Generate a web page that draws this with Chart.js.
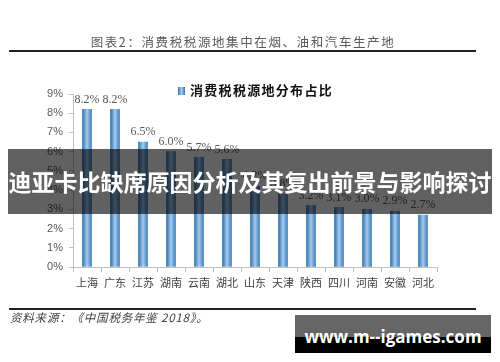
<!DOCTYPE html>
<html>
<head>
<meta charset="utf-8">
<script src="https://cdn.jsdelivr.net/npm/chart.js@4"></script>
<style>
  body { margin: 0; background: #fff; }
  #wrap { position: relative; width: 500px; height: 362px; overflow: hidden; font-family: "Noto Sans CJK SC", sans-serif; }
  #chart { position: absolute; left: 0; top: 0; }
  .title { position: absolute; left: 0; width: 486px; top: 32px; text-align: center; font-size: 12.5px; letter-spacing: 1.6px; color: #595959; }
  .rule { position: absolute; left: 9px; width: 467px; height: 2px; background: #222; }
  .legend { position: absolute; left: 178px; top: 80px; font-size: 13px; font-weight: bold; letter-spacing: 1.3px; color: #111; }
  .legend i { display: inline-block; width: 7px; height: 8px; background: linear-gradient(90deg, #2e75b6, #a9cbea, #2e75b6); margin-right: 5px; }
  .source { position: absolute; left: 10px; top: 309px; font-size: 11.5px; font-style: italic; letter-spacing: 0.8px; color: #404040; }
  .banner { position: absolute; left: 8px; width: 484px; top: 149px; height: 65px; background: rgba(0,0,0,0.62); color: #fff; font-size: 23px; font-weight: bold; line-height: 65px; text-align: center; white-space: nowrap; }
  .mark { position: absolute; left: 295px; top: 315px; width: 196px; height: 38px; background: linear-gradient(#666 0, #666 58%, #000 58%, #000 100%); color: #fff; font-family: "Open Sans", sans-serif; font-weight: bold; font-size: 17px; line-height: 44px; text-align: center; }
</style>
</head>
<body>
<div id="wrap">
  <canvas id="chart" width="500" height="362"></canvas>
  <div class="title">图表2：消费税税源地集中在烟、油和汽车生产地</div>
  <div class="rule" style="top:50px"></div>
  <div class="legend"><i></i>消费税税源地分布占比</div>
  <div class="rule" style="top:308px"></div>
  <div class="source">资料来源：《中国税务年鉴 2018》。</div>
  <div class="banner">迪亚卡比缺席原因分析及其复出前景与影响探讨</div>
  <div class="mark">www.m--igames.com</div>
</div>
<script>
// categories and values
const provinces = ['上海', '广东', '江苏', '湖南', '云南', '湖北', '山东', '天津', '陕西', '四川', '河南', '安徽', '河北'];
const shares = [8.2, 8.2, 6.5, 6.0, 5.7, 5.6, 4.2, 3.8, 3.2, 3.1, 3.0, 2.9, 2.7];
const yTicks = [0, 1, 2, 3, 4, 5, 6, 7, 8, 9];

// horizontal light-centre gradient on each bar, like the original
const barShade = {
    id: 'barShade',
    beforeDatasetsDraw(chart) {
        const ctx = chart.ctx;
        chart.getDatasetMeta(0).data.forEach(function(bar) {
            const half = bar.width / 2;
            const g = ctx.createLinearGradient(bar.x - half, 0, bar.x + half, 0);
            g.addColorStop(0, '#2e75b6');
            g.addColorStop(0.5, '#a9cbea');
            g.addColorStop(1, '#3d82c2');
            bar.options = Object.assign({}, bar.options, { backgroundColor: g });
        });
    }
};

// value labels above each bar
const valueLabels = {
    id: 'valueLabels',
    afterDatasetsDraw(chart) {
        const ctx = chart.ctx;
        const meta = chart.getDatasetMeta(0);
        ctx.save();
        ctx.font = '12px "Liberation Serif", serif';
        ctx.fillStyle = '#595959';
        ctx.textAlign = 'center';
        ctx.textBaseline = 'bottom';
        meta.data.forEach(function(bar, i) {
            ctx.fillText(shares[i].toFixed(1) + '%', bar.x, bar.y - 4);
        });
        ctx.restore();
    }
};

const ctx = document.getElementById('chart').getContext('2d');
new Chart(ctx, {
    type: 'bar',
    data: {
        labels: provinces,
        datasets: [{
            label: '消费税税源地分布占比',
            data: shares,
            backgroundColor: c => '#6fa7d9',
            borderWidth: 0,
            barThickness: 9
        }]
    },
    options: {
        responsive: false,
        animation: false,
        layout: { padding: { left: 0, top: 94, right: 63, bottom: 55 } },
        plugins: {
            legend: { display: false },
            tooltip: { enabled: false }
        },
        scales: {
            y: {
                min: 0,
                max: 9,
                afterFit: function(s) { s.width = 73; },
                afterBuildTicks: function(s) { s.ticks = yTicks.map(v => ({ value: v })); },
                border: { color: '#bfbfbf' },
                grid: { drawOnChartArea: false, tickLength: 4, color: '#bfbfbf' },
                ticks: {
                    padding: 6,
                    color: '#595959',
                    font: { family: '"Liberation Sans", sans-serif', size: 11 },
                    callback: v => v + '%'
                }
            },
            x: {
                afterFit: function(s) { s.height = 40; },
                border: { color: '#bfbfbf' },
                grid: { drawOnChartArea: false, tickLength: 5, color: '#bfbfbf' },
                ticks: {
                    padding: 4,
                    maxRotation: 0,
                    autoSkip: false,
                    color: '#404040',
                    font: { family: '"Noto Sans CJK SC", sans-serif', size: 11 }
                }
            }
        }
    },
    plugins: [barShade, valueLabels]
});
</script>
</body>
</html>
